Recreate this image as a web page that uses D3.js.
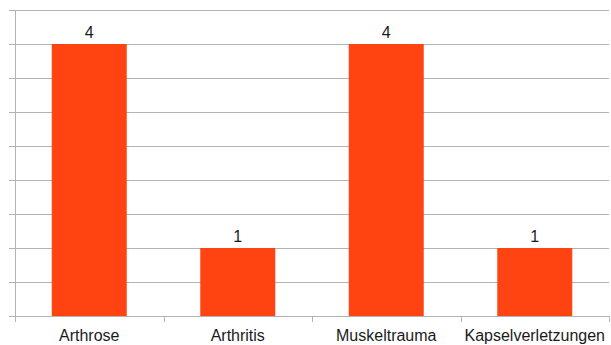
<!DOCTYPE html>
<html><head><meta charset="utf-8">
<script src="https://cdn.jsdelivr.net/npm/d3@7"></script>
<style>body{margin:0;background:#fff}svg{display:block}</style>
</head><body>
<svg id="c" width="611" height="345"></svg>
<script>
const categories = ["Arthrose", "Arthritis", "Muskeltrauma", "Kapselverletzungen"];
const values = [4, 1, 4, 1];
const yTicks = [0, 0.5, 1, 1.5, 2, 2.5, 3, 3.5, 4, 4.5];

const svg = d3.select("#c");
const m = {l: 15, r: 2, t: 10, b: 29};
const W = 611, H = 345;
const x = d3.scaleBand().domain(categories).range([m.l, W - m.r]).paddingInner(0).paddingOuter(0);
const y = d3.scaleLinear().domain([0, 4.5]).range([H - m.b, m.t]);
const grid = "#b3b3b3";

// gridlines
svg.append("g").selectAll("line").data(yTicks).join("line")
  .attr("x1", m.l - 6).attr("x2", W - m.r)
  .attr("y1", d => Math.round(y(d)) + 0.5).attr("y2", d => Math.round(y(d)) + 0.5)
  .attr("stroke", grid).attr("stroke-width", 1);

// y axis line
svg.append("line").attr("x1", m.l + 0.5).attr("x2", m.l + 0.5)
  .attr("y1", y(4.5)).attr("y2", y(0) + 6).attr("stroke", grid);

// category ticks
const edges = categories.map(c => x(c)).concat([x.range()[1]]);
svg.append("g").selectAll("line").data(edges.slice(1)).join("line")
  .attr("x1", d => Math.round(d) + 0.5).attr("x2", d => Math.round(d) + 0.5)
  .attr("y1", y(0)).attr("y2", y(0) + 6).attr("stroke", grid);

// bars
const bw = x.bandwidth() * 0.505;
svg.append("g").selectAll("rect").data(values).join("rect")
  .attr("x", (d, i) => x(categories[i]) + (x.bandwidth() - bw) / 2)
  .attr("width", bw)
  .attr("y", d => y(d)).attr("height", d => y(0) - y(d))
  .attr("fill", "#ff4411");

// value labels
svg.append("g").selectAll("text").data(values).join("text")
  .attr("x", (d, i) => x(categories[i]) + x.bandwidth() / 2)
  .attr("y", d => y(d) - 6.5)
  .attr("text-anchor", "middle")
  .attr("font-family", "Liberation Sans, Arial, sans-serif")
  .attr("font-size", 16).attr("fill", "#1a1a1a")
  .text(d => d);

// category labels
svg.append("g").selectAll("text").data(categories).join("text")
  .attr("x", d => x(d) + x.bandwidth() / 2)
  .attr("y", y(0) + 25)
  .attr("text-anchor", "middle")
  .attr("font-family", "Liberation Sans, Arial, sans-serif")
  .attr("font-size", 16).attr("fill", "#1a1a1a")
  .text(d => d);
</script>
</body></html>
